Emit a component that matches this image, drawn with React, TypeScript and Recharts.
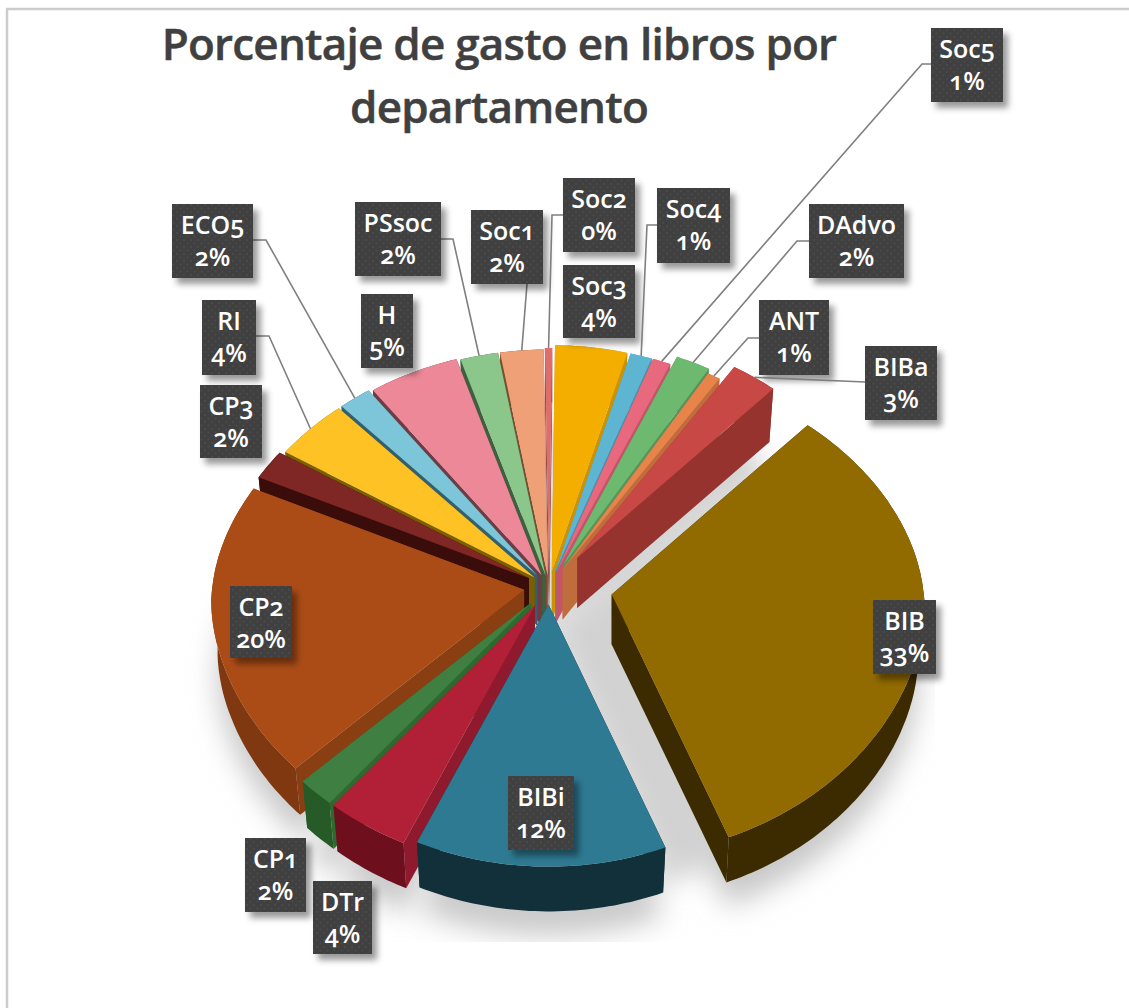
import { Pie, PieChart } from "recharts";

const names = ["BIB", "BIBi", "DTr", "CP1", "CP2", "CP3", "RI", "ECO5", "H", "PSsoc", "Soc1", "Soc2", "Soc3", "Soc4", "Soc5", "DAdvo", "ANT", "BIBa"];
const values = [32.75, 12.2, 4, 1.8, 20.1, 2, 4.1, 1.8, 5, 2.1, 2.4, 0.4, 4, 1.2, 1, 1.9, 0.7, 2.55];
const faceColors = ["#916a00", "#2e7a92", "#b22037", "#3f7f41", "#ab4c17", "#7e2725", "#fec224", "#7dc5d9", "#ec8898", "#8bc68b", "#f0a077", "#e06c6c", "#f3ae00", "#5db5d2", "#e8687d", "#6cb96f", "#e8834a", "#c84845"];
const rimColors = ["#3c2b00", "#12303a", "#6e0f1e", "#265a27", "#7f3810", "#3a0c0a", "#7a5f00", "#33606c", "#6e3c44", "#3f5f3f", "#7a4f30", "#8a4040", "#cc9200", "#4a90a8", "#c45568", "#55955a", "#bf6d3c", "#96332f"];
const edgeColors = ["#3c2b00", "#12303a", "#8f1a2e", "#2d6a2e", "#8a3f12", "#3a0c0a", "#7a5f00", "#33606c", "#6e3c44", "#3f5f3f", "#7a4f30", "#8a4040", "#cc9200", "#4a90a8", "#c45568", "#55955a", "#bf6d3c", "#96332f"];
const explosions = [63, 21, 26, 26, 25, 24, 20, 20, 18, 16, 16, 18, 22, 22, 22, 34, 28, 50];

const titleLines = ["Porcentaje de gasto en libros por", "departamento"];

// label boxes are hand placed in the original: x, y, width, height
const labelBoxes: Record<string, number[]> = {
  BIB: [873, 600, 63, 74],
  BIBi: [508, 776, 66, 74],
  DTr: [313, 881, 59, 73],
  CP1: [245, 838, 61, 74],
  CP2: [230, 586, 62, 72],
  CP3: [200, 385, 62, 73],
  RI: [202, 300, 54, 75],
  ECO5: [172, 204, 81, 74],
  H: [361, 294, 52, 74],
  PSsoc: [355, 202, 86, 74],
  Soc1: [471, 210, 72, 74],
  Soc2: [563, 178, 72, 74],
  Soc3: [563, 265, 72, 73],
  Soc4: [657, 188, 73, 75],
  Soc5: [931, 28, 72, 74],
  DAdvo: [809, 204, 95, 74],
  ANT: [759, 300, 70, 75],
  BIBa: [865, 346, 72, 74],
};

// leader line points from the box towards the slice
const leaders: Record<string, number[][]> = {
  ECO5: [[253, 240], [266, 240]],
  RI: [[256, 336], [269, 336]],
  PSsoc: [[441, 239], [453, 239]],
  Soc1: [[527, 284]],
  Soc2: [[563, 215], [552, 215]],
  Soc4: [[657, 225], [647, 225]],
  Soc5: [[931, 64], [922, 64]],
  DAdvo: [[809, 241], [797, 241]],
  ANT: [[759, 338], [748, 338]],
  BIBa: [[865, 382]],
};

const data = names.map((name, i) => ({ name, value: values[i] }));

const CX = 549;
const CY = 587;
const RX = 312;
const RY_TOP = 226;
const RY_BOTTOM = 262;
const PERSPECTIVE = 0.07;
const DEPTH = 50;
const START_CLOCK = 41.5;
const FONT = "'Open Sans', sans-serif";

const total = values.reduce((a, b) => a + b, 0);
const midAngles = values.map((v, i) => {
  const before = values.slice(0, i).reduce((a, b) => a + b, 0);
  return START_CLOCK + ((before + v / 2) / total) * 360;
});
// back slices are painted first
const paintOrder = names
  .map((_, i) => i)
  .sort((a, b) => Math.cos((midAngles[b] * Math.PI) / 180) - Math.cos((midAngles[a] * Math.PI) / 180));

function project(clockDeg: number, scale: number) {
  const t = (clockDeg * Math.PI) / 180;
  const c = Math.cos(t);
  const y = c > 0 ? -c * RY_TOP : Math.pow(-c, 1.15) * RY_BOTTOM;
  return [Math.sin(t) * RX * scale * (1 - PERSPECTIVE * c), y * scale];
}

function sliceGeometry(i: number, startAngle: number, endAngle: number) {
  const from = 90 - startAngle;
  const to = 90 - endAngle;
  const mid = (from + to) / 2;
  const off = project(mid, explosions[i] / RX);
  const ax = CX + off[0];
  const ay = CY + off[1];
  const arc = (scale: number, dy: number) => {
    const pts: number[][] = [];
    const steps = Math.max(2, Math.ceil(Math.abs(to - from)));
    for (let s = 0; s <= steps; s++) {
      const p = project(from + ((to - from) * s) / steps, scale);
      pts.push([ax + p[0], ay + p[1] + dy]);
    }
    return pts;
  };
  return { from, to, mid, ax, ay, top: arc(1, 0), bottom: arc(0.98, DEPTH) };
}

const toPath = (pts: number[][]) => "M" + pts.map((p) => `${p[0].toFixed(1)} ${p[1].toFixed(1)}`).join("L") + "Z";

function Slice({ i, props }: { i: number; props: any }) {
  const g = sliceGeometry(i, props.startAngle, props.endAngle);
  const apex = [g.ax, g.ay];
  const apexLow = [g.ax, g.ay + DEPTH];
  const first = g.top[0];
  const last = g.top[g.top.length - 1];
  const firstLow = g.bottom[0];
  const lastLow = g.bottom[g.bottom.length - 1];
  return (
    <g>
      <path d={toPath([apex, first, firstLow, apexLow])} fill={edgeColors[i]} />
      <path d={toPath([apex, last, lastLow, apexLow])} fill={edgeColors[i]} />
      <path d={toPath([...g.top, ...[...g.bottom].reverse()])} fill={rimColors[i]} />
      <path d={toPath([apex, ...g.top])} fill={faceColors[i]} />
    </g>
  );
}

function SliceShadow({ i, props }: { i: number; props: any }) {
  const g = sliceGeometry(i, props.startAngle, props.endAngle);
  const offX = CX - g.ax;
  const offY = CY - g.ay;
  return (
    <g clipPath="url(#shadowClip)" filter="url(#shadowBlur)">
      <path d={toPath([[g.ax, g.ay + 60], ...g.bottom.map((p) => [p[0], p[1] + 24])])} fill="#c8c8c8" />
      <path d={toPath([[CX, CY + 40], ...g.bottom.map((p) => [p[0] + offX, p[1] + offY + 10])])} fill="#d2d2d2" />
    </g>
  );
}

function DataLabel(props: any) {
  const i = names.indexOf(props.name);
  const box = labelBoxes[props.name];
  const g = sliceGeometry(i, props.startAngle, props.endAngle);
  const tip = project(g.mid, 1);
  const leader = leaders[props.name];
  const textX = box[0] + box[2] / 2;
  return (
    <g>
      {leader && (
        <polyline
          points={[...leader, [g.ax + tip[0], g.ay + tip[1]]].map((p) => p.join(",")).join(" ")}
          fill="none"
          stroke="#7f7f7f"
          strokeWidth={1.6}
        />
      )}
      <rect x={box[0]} y={box[1]} width={box[2]} height={box[3]} fill="url(#labelDots)" filter="url(#labelShadow)" />
      <text
        x={textX}
        textAnchor="middle"
        fill="#ffffff"
        style={{ fontFamily: FONT, fontSize: 25, fontWeight: 600, fontFeatureSettings: '"onum"' }}
      >
        <tspan x={textX} y={box[1] + 30}>{props.name}</tspan>
        <tspan x={textX} y={box[1] + 62}>{`${Math.round(props.percent * 100)}%`}</tspan>
      </text>
    </g>
  );
}

const pieBase = {
  data,
  dataKey: "value",
  nameKey: "name",
  cx: CX,
  cy: CY,
  outerRadius: RX,
  startAngle: 90 - START_CLOCK,
  endAngle: 90 - START_CLOCK - 360,
  stroke: "none",
  isAnimationActive: false,
  labelLine: false,
};

export default function App() {
  return (
    <div style={{ position: "absolute", left: 0, top: 0, width: 1129, height: 1008, background: "#fff" }}>
      <PieChart width={1129} height={1008} margin={{ top: 0, right: 0, bottom: 0, left: 0 }}>
        <defs>
          <pattern id="labelDots" width="7" height="7" patternUnits="userSpaceOnUse">
            <rect width="7" height="7" fill="#3f3f3f" />
            <circle cx="2" cy="2" r="1" fill="#4b4b4b" />
            <circle cx="5.5" cy="5.5" r="1" fill="#4b4b4b" />
          </pattern>
          <filter id="labelShadow" x="-20%" y="-20%" width="150%" height="150%">
            <feDropShadow dx="5" dy="6" stdDeviation="3" floodColor="#000" floodOpacity="0.4" />
          </filter>
          <filter id="shadowBlur" x="-30%" y="-30%" width="160%" height="160%">
            <feGaussianBlur stdDeviation="14" />
          </filter>
          <clipPath id="shadowClip">
            <rect x="180" y="340" width="755" height="602" />
          </clipPath>
        </defs>
        <line x1={6} y1={9} x2={1129} y2={9} stroke="#cccccc" strokeWidth={2.5} />
        <line x1={7} y1={9} x2={7} y2={1008} stroke="#cccccc" strokeWidth={2.5} />
        {titleLines.map((line, i) => (
          <text
            key={line}
            x={499}
            y={60 + i * 63}
            textAnchor="middle"
            fill="#404040"
            stroke="#404040"
            strokeWidth={0.5}
            style={{ fontFamily: FONT, fontSize: 44, fontWeight: 600, letterSpacing: -0.76 }}
          >
            {line}
          </text>
        ))}
        {paintOrder.map((i) => (
          <Pie
            key={`shadow-${i}`}
            {...pieBase}
            shape={(props: any) => (props.name === names[i] ? <SliceShadow i={i} props={props} /> : <g />)}
          />
        ))}
        {paintOrder.map((i) => (
          <Pie
            key={`slice-${i}`}
            {...pieBase}
            shape={(props: any) => (props.name === names[i] ? <Slice i={i} props={props} /> : <g />)}
          />
        ))}
        <Pie key="labels" {...pieBase} shape={() => <g />} label={DataLabel} />
      </PieChart>
    </div>
  );
}
